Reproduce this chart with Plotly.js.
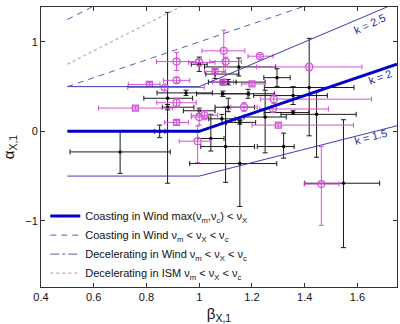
<!DOCTYPE html>
<html><head><meta charset="utf-8">
<script src="https://cdn.plot.ly/plotly-3.0.1.min.js"></script>
<style>html,body{margin:0;padding:0;background:#fff}#c{width:400px;height:324px}</style>
</head><body><div id="c"></div>
<script>
// Black points: beta, alpha, and asymmetric errors
const blkBeta  = [0.70, 0.88, 0.85, 0.88, 0.95, 1.00, 1.15, 1.06, 1.09, 1.11, 1.09, 1.185, 1.00, 1.044, 1.10, 1.154, 1.086, 1.11, 1.154, 1.25, 1.295, 1.356, 1.417, 1.32, 1.445, 1.356, 1.547];
const blkAlpha = [-0.23, 0.37, 0.00, 0.27, 0.43, 0.75, 0.72, 0.64, 0.55, 0.55, 0.42, 0.42, 0.23, -0.08, -0.17, -0.36, 0.14, 0.27, 0.10, 0.16, 0.60, 0.40, 0.49, -0.17, 0.19, 0.21, -0.58];
const blkXm    = [0.19, 0.09, 0.02, 0.02, 0.11, 0.03, 0.13, 0.035, 0.055, 0.03, 0.10, 0.10, 0.06, 0.05, 0.094, 0.19, 0.05, 0.05, 0.05, 0.08, 0.05, 0.15, 0.17, 0.10, 0.135, 0.11, 0.147];
const blkXp    = [0.19, 0.095, 0.02, 0.10, 0.10, 0.03, 0.14, 0.09, 0.16, 0.03, 0.10, 0.10, 0.06, 0.05, 0.11, 0.14, 0.05, 0.10, 0.06, 0.08, 0.05, 0.13, 0.17, 0.04, 0.15, 0.06, 0.137];
const blkYm    = [0.24, 0.95, 0.07, 0.03, 0.03, 0.08, 0.10, 0.05, 0.03, 0.03, 0.03, 0.05, 0.03, 0.14, 0.40, 0.48, 0.05, 0.05, 0.02, 0.40, 0.10, 0.10, 0.54, 0.13, 0.48, 0.02, 0.72];
const blkYp    = [0.23, 0.96, 0.07, 0.03, 0.03, 0.08, 0.10, 0.05, 0.03, 0.03, 0.03, 0.05, 0.03, 0.27, 0.44, 0.49, 0.05, 0.10, 0.02, 0.30, 0.10, 0.10, 0.55, 0.15, 0.25, 0.02, 0.71];

// Magenta circles
const mcBeta  = [0.914, 0.914, 0.869, 0.914, 0.994, 1.093, 1.10, 1.00, 1.23, 1.417, 1.283, 1.28, 1.17, 1.02, 1.463, 1.00];
const mcAlpha = [0.78, 0.57, 0.49, 0.32, -0.11, 0.90, 0.78, 0.77, 0.84, 0.72, 0.36, 0.25, 0.27, 0.18, -0.59, 0.16];
const mcXm    = [0.076, 0.05, 0.14, 0.075, 0.07, 0.083, 0.06, 0.04, 0.045, 0.20, 0.05, 0.05, 0.05, 0.05, 0.065, 0.03];
const mcXp    = [0.073, 0.05, 0.15, 0.075, 0.05, 0.08, 0.06, 0.06, 0.05, 0.20, 0.37, 0.21, 0.05, 0.05, 0.067, 0.03];
const mcYm    = [0.10, 0.03, 0.03, 0.05, 0.24, 0.24, 0.05, 0.04, 0.02, 0.04, 0.05, 0.03, 0.05, 0.05, 0.46, 0.09];
const mcYp    = [0.10, 0.03, 0.03, 0.05, 0.17, 0.23, 0.05, 0.04, 0.02, 0.04, 0.05, 0.03, 0.05, 0.05, 0.42, 0.09];

// Magenta squares
const msBeta  = [0.811, 0.758, 0.914, 1.06, 1.20, 1.30, 1.09];
const msAlpha = [0.525, 0.26, 0.10, 0.67, 0.53, 0.07, 0.55];
const msXm    = [0.08, 0.14, 0.045, 0.04, 0.04, 0.10, 0.04];
const msXp    = [0.04, 0.14, 0.045, 0.04, 0.05, 0.285, 0.04];
const msYm    = [0.02, 0.02, 0.02, 0.02, 0.02, 0.02, 0.02];
const msYp    = [0.02, 0.02, 0.02, 0.02, 0.02, 0.02, 0.02];

// Closure relation lines
const lineBeta   = [0.5, 1.0, 1.75];
const k2Alpha    = [0.0, 0.0, 0.75];
const k25Alpha   = [0.5, 0.5, 1.4375];
const k15Alpha   = [-0.5, -0.5, 0.0625];
const dashBeta   = [0.5, 1.75];
const dashLoAlpha = [0.5, 1.75];
const dashHiAlpha = [1.25, 3.125];
const dotAlpha   = [0.75, 2.625];

const legendNames = [
  'Coasting in Wind max(ν<sub>m</sub>,ν<sub>c</sub>) < ν<sub>X</sub>',
  'Coasting in Wind ν<sub>m</sub> < ν<sub>X</sub> < ν<sub>c</sub>',
  'Decelerating in Wind ν<sub>m</sub> < ν<sub>X</sub> < ν<sub>c</sub>',
  'Decelerating in ISM ν<sub>m</sub> < ν<sub>X</sub> < ν<sub>c</sub>'
];
const kLabels = ['k = 2.5', 'k = 2', 'k = 1.5'];
const kLabelBeta = [1.645, 1.685, 1.648];
const kLabelAlpha = [1.20, 0.61, -0.06];

const MAG = '#d452d8';
const BLK = '#1a1a1a';
function errs(m, p, col){ return {type:'data', symmetric:false, array:p, arrayminus:m, color:col, thickness:1, width:2.5}; }

const traces = [
  {x: blkBeta, y: blkAlpha, type:'scatter', mode:'markers', showlegend:false,
   marker:{size:3.5, color:'#000'},
   error_x: errs(blkXm, blkXp, BLK), error_y: errs(blkYm, blkYp, BLK)},
  {x: mcBeta, y: mcAlpha, type:'scatter', mode:'markers', showlegend:false,
   marker:{size:7, symbol:'circle-open', color:MAG, line:{width:1.2, color:MAG}},
   error_x: errs(mcXm, mcXp, MAG), error_y: errs(mcYm, mcYp, MAG)},
  {x: msBeta, y: msAlpha, type:'scatter', mode:'markers', showlegend:false,
   marker:{size:6, symbol:'square-open', color:MAG, line:{width:1.2, color:MAG}},
   error_x: errs(msXm, msXp, MAG), error_y: errs(msYm, msYp, MAG)},
  {x: lineBeta, y: k25Alpha, mode:'lines', showlegend:false, line:{color:'#3c3cb4', width:1}},
  {x: lineBeta, y: k15Alpha, mode:'lines', showlegend:false, line:{color:'#3c3cb4', width:1}},
  {x: lineBeta, y: k2Alpha, mode:'lines', name:legendNames[0], line:{color:'#0000c8', width:3}},
  {x: dashBeta, y: dashLoAlpha, mode:'lines', name:legendNames[1], line:{color:'#5a5ab8', width:1, dash:'6px,5px'}},
  {x: dashBeta, y: dashHiAlpha, mode:'lines', showlegend:false, line:{color:'#5a5ab8', width:1, dash:'6px,5px'}},
  {x: [null], y: [null], mode:'lines', name:legendNames[2], line:{color:'#5a5ab8', width:1, dash:'dashdot'}},
  {x: dashBeta, y: dotAlpha, mode:'lines', name:legendNames[3], line:{color:'#d4a0a8', width:1.2, dash:'dot'}}
];

const annotations = kLabels.map((t,i)=>({x:kLabelBeta[i], y:kLabelAlpha[i], xref:'x', yref:'y', text:t,
  showarrow:false, textangle:[-25,-20,-15][i], font:{family:'Liberation Sans, Arial', size:11, color:'#2828a0'}}));

const layout = {
  width:400, height:324,
  margin:{l:41, r:3, t:7, b:37},
  paper_bgcolor:'#fff', plot_bgcolor:'#fff',
  font:{family:'Liberation Sans, Arial', size:11, color:'#111'},
  showlegend:true,
  legend:{x:0.012, y:0.305, xanchor:'left', yanchor:'top', bgcolor:'rgba(0,0,0,0)',
          font:{size:11, family:'Liberation Sans, Arial', color:'#111'}, tracegroupgap:0},
  xaxis:{range:[0.4,1.75], tickvals:[0.4,0.6,0.8,1,1.2,1.4,1.6], ticktext:['0.4','0.6','0.8','1','1.2','1.4','1.6'],
         ticks:'inside', ticklen:4, tickcolor:'#333', mirror:'allticks', showline:true, linecolor:'#333', linewidth:1,
         showgrid:false, zeroline:false, tickfont:{size:11},
         title:{text:'β<sub>X,1</sub>', font:{size:15}, standoff:6}},
  yaxis:{range:[-1.74,1.39], tickvals:[-1,0,1], ticktext:['−1','0','1'],
         ticks:'inside', ticklen:4, tickcolor:'#333', mirror:'allticks', showline:true, linecolor:'#333', linewidth:1,
         showgrid:false, zeroline:false, tickfont:{size:11},
         title:{text:'α<sub>X,1</sub>', font:{size:15}, standoff:8}},
  annotations: annotations
};
Plotly.newPlot('c', traces, layout, {displayModeBar:false, staticPlot:true});
</script></body></html>
